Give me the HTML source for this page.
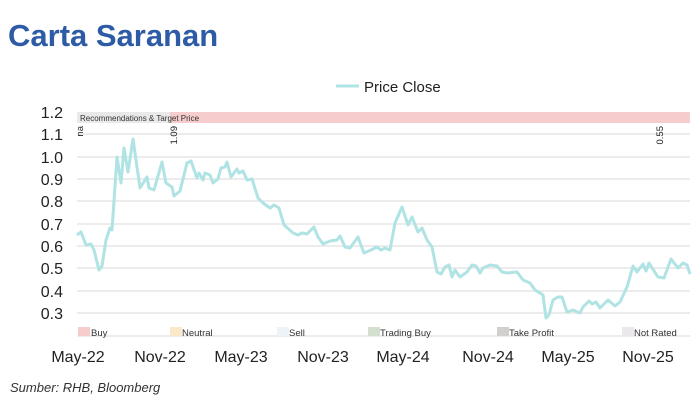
<!DOCTYPE html>
<html><head><meta charset="utf-8"><style>
body{margin:0;background:#fff;width:700px;height:406px;overflow:hidden;font-family:"Liberation Sans",sans-serif}
</style></head><body>
<svg width="700" height="406" xmlns="http://www.w3.org/2000/svg" font-family="Liberation Sans, sans-serif">
<text x="8" y="46" font-size="31" font-weight="bold" fill="#2d5ba6">Carta Saranan</text>
<line x1="336" y1="86" x2="359" y2="86" stroke="#b0e3e3" stroke-width="3"/>
<text x="364" y="92" font-size="15" fill="#222">Price Close</text>
<g stroke="#e0e0e0" stroke-width="1.2">
<line x1="77" y1="134" x2="690" y2="134"/><line x1="77" y1="157" x2="690" y2="157"/>
<line x1="77" y1="179" x2="690" y2="179"/><line x1="77" y1="201" x2="690" y2="201"/>
<line x1="77" y1="224" x2="690" y2="224"/><line x1="77" y1="246" x2="690" y2="246"/>
<line x1="77" y1="268" x2="690" y2="268"/><line x1="77" y1="291" x2="690" y2="291"/>
<line x1="77" y1="313" x2="690" y2="313"/><line x1="77" y1="336" x2="690" y2="336"/>
</g>
<rect x="77" y="112" width="93" height="11" fill="#e9e9e9"/>
<rect x="170" y="112" width="520" height="11" fill="#f6cccc"/>
<text x="80" y="121" font-size="8" fill="#333">Recommendations &amp; Target Price</text>
<text transform="translate(83,126) rotate(-90)" font-size="9.5" text-anchor="end" fill="#222">na</text>
<text transform="translate(177,126) rotate(-90)" font-size="9.5" text-anchor="end" fill="#222">1.09</text>
<text transform="translate(663,126) rotate(-90)" font-size="9.5" text-anchor="end" fill="#222">0.55</text>
<g font-size="16" fill="#222" text-anchor="end">
<text x="63" y="118">1.2</text><text x="63" y="140">1.1</text><text x="63" y="163">1.0</text>
<text x="63" y="185">0.9</text><text x="63" y="207">0.8</text><text x="63" y="230">0.7</text>
<text x="63" y="252">0.6</text><text x="63" y="274">0.5</text><text x="63" y="297">0.4</text>
<text x="63" y="319">0.3</text></g>
<polyline fill="none" stroke="#b0e3e3" stroke-width="3" stroke-linejoin="round" points="77,235 81,232 86,245 91,244 94,250 99,270 102,266 106,240 110,228 112,230 117,157 121,183 124,148 128,172 133,139 140,188 147,177 149,188 154,190 162,162 166,183 172,187 174,196 180,191 187,163 191,161 197,178 199,173 203,180 205,173 210,175 213,183 218,179 221,168 225,167 227,162 231,177 237,169 239,173 243,171 247,180 252,179 258,198 263,203 270,208 274,205 279,208 284,225 293,233 298,235 302,233 307,234 314,227 318,237 323,244 330,241 337,240 340,236 345,247 350,248 358,237 364,253 371,250 377,247 381,250 385,248 390,250 395,223 402,207 408,225 412,217 418,232 422,228 427,240 432,247 437,272 441,274 445,267 449,265 452,277 455,270 460,277 467,272 472,265 476,266 480,273 483,268 490,265 497,266 502,272 507,273 517,272 523,280 530,283 535,290 543,295 546,318 549,315 553,300 558,297 562,297 567,312 573,310 580,313 583,307 589,301 592,304 596,302 600,308 608,300 615,306 620,302 627,287 633,266 637,272 643,264 646,271 649,263 658,277 664,278 671,259 678,268 683,263 687,265 690,274"/>
<g font-size="9.5" fill="#333">
<rect x="78" y="327" width="12" height="9" fill="#f6cccc"/><text x="91" y="336">Buy</text>
<rect x="170" y="327" width="12" height="9" fill="#fbe9cc"/><text x="182" y="336">Neutral</text>
<rect x="277" y="327" width="12" height="9" fill="#eef3f8"/><text x="289" y="336">Sell</text>
<rect x="368" y="327" width="12" height="9" fill="#d4dfcf"/><text x="380" y="336">Trading Buy</text>
<rect x="497" y="327" width="12" height="9" fill="#d3cfcf"/><text x="509" y="336">Take Profit</text>
<rect x="622" y="327" width="12" height="9" fill="#ebe8ec"/><text x="634" y="336">Not Rated</text>
</g>
<g font-size="16" fill="#222" text-anchor="middle">
<text x="78" y="362">May-22</text><text x="160" y="362">Nov-22</text><text x="241" y="362">May-23</text>
<text x="323" y="362">Nov-23</text><text x="403" y="362">May-24</text><text x="488" y="362">Nov-24</text>
<text x="568" y="362">May-25</text><text x="648" y="362">Nov-25</text></g>
<text x="10" y="392" font-size="13" font-style="italic" fill="#333">Sumber: RHB, Bloomberg</text>
</svg>
</body></html>
